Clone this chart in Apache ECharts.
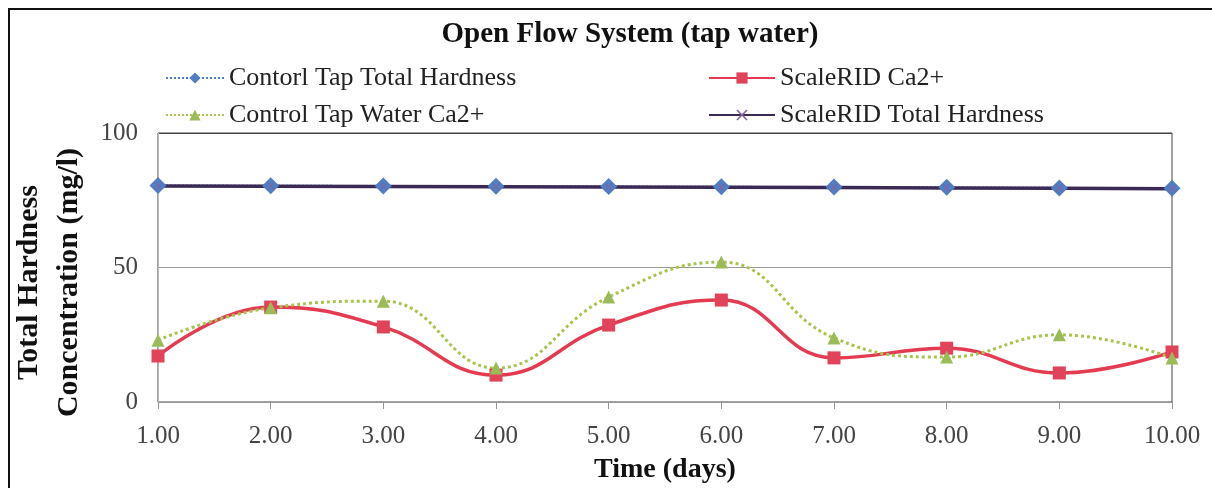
<!DOCTYPE html>
<html><head><meta charset="utf-8">
<script src="https://cdn.jsdelivr.net/npm/echarts@6/dist/echarts.min.js"></script>
<style>html,body{margin:0;padding:0;background:#fff}#c{width:1212px;height:488px}</style>
</head><body><div id="c"></div>
<script>
const days = ['1.00','2.00','3.00','4.00','5.00','6.00','7.00','8.00','9.00','10.00'];
const controlTapTotalHardness = [80.5, 80.4, 80.3, 80.2, 80.1, 80.0, 79.9, 79.8, 79.6, 79.5];
const scaleRidCa = [17.1, 35.3, 27.9, 10.0, 28.6, 37.9, 16.4, 20.0, 10.8, 18.6];
const controlTapWaterCa = [23.0, 35.0, 37.5, 12.6, 39.0, 52.0, 23.8, 16.7, 25.0, 16.4];
const scaleRidTotalHardness = [80.3, 80.2, 80.1, 80.0, 79.9, 79.8, 79.7, 79.6, 79.5, 79.3];
const yTicks = [0, 50, 100];

const serif = '"Liberation Serif", "DejaVu Serif", serif';
const chart = echarts.init(document.getElementById('c'), null, {renderer: 'canvas'});
chart.setOption({
  animation: false,
  backgroundColor: '#fff',
  title: {
    text: 'Open Flow System (tap water)', left: 625, top: 15, textAlign: 'center',
    textStyle: {fontFamily: serif, fontSize: 29, fontWeight: 'bold', color: '#111'}
  },
  legend: [
    {left: 160, top: 60, orient: 'vertical', itemGap: 11, itemWidth: 58, itemHeight: 14,
     data: ['Contorl Tap Total Hardness', 'Control Tap Water Ca2+'],
     textStyle: {fontFamily: serif, fontSize: 26, color: '#222'}},
    {left: 703, top: 60, orient: 'vertical', itemGap: 11, itemWidth: 66, itemHeight: 14,
     data: ['ScaleRID Ca2+', 'ScaleRID Total Hardness'],
     textStyle: {fontFamily: serif, fontSize: 26, color: '#222'}}
  ],
  grid: {left: 158, right: 40, top: 133, bottom: 86, show: true, borderColor: '#444', borderWidth: 1,
         outerBoundsMode: 'none', containLabel: false},
  xAxis: {
    type: 'category', data: days, boundaryGap: false,
    name: 'Time (days)', nameLocation: 'middle', nameGap: 54,
    nameTextStyle: {fontFamily: serif, fontSize: 28, fontWeight: 'bold', color: '#111'},
    axisLine: {lineStyle: {color: '#999', width: 1}},
    axisTick: {show: true, length: 7, lineStyle: {color: '#999'}},
    axisLabel: {fontFamily: serif, fontSize: 25, color: '#444', margin: 22},
    splitLine: {show: false}
  },
  yAxis: {
    type: 'value', min: 0, max: 100, interval: 50,
    name: 'Total Hardness\nConcentration (mg/l)', nameLocation: 'middle', nameGap: 66,
    nameTextStyle: {fontFamily: serif, fontSize: 30, fontWeight: 'bold', color: '#111', lineHeight: 40, padding: [0, 30, 0, 0]},
    axisLine: {show: true, lineStyle: {color: '#bbb'}},
    axisTick: {show: false},
    axisLabel: {fontFamily: serif, fontSize: 25, color: '#444', margin: 20,
      formatter: v => yTicks.includes(v) ? String(v) : ''},
    splitLine: {show: true, lineStyle: {color: ['#ccc', '#999', '#444']}}
  },
  graphic: [{type: 'rect', shape: {x: 9, y: 9, width: 1220, height: 500},
    style: {fill: 'none', stroke: '#111', lineWidth: 2}, silent: true, z: 100}],
  series: [
    {name: 'Contorl Tap Total Hardness', type: 'line', data: controlTapTotalHardness,
     symbol: 'diamond', symbolSize: 17, itemStyle: {color: '#4F7EC2'},
     lineStyle: {color: '#4F7EC2', width: 2, type: 'dotted'}},
    {name: 'ScaleRID Ca2+', type: 'line', data: scaleRidCa, smooth: 0.45,
     symbol: 'rect', symbolSize: 13, itemStyle: {color: '#E0435A'},
     lineStyle: {color: '#E33B52', width: 3.5}},
    {name: 'Control Tap Water Ca2+', type: 'line', data: controlTapWaterCa, smooth: 0.45,
     symbol: 'triangle', symbolSize: 13, itemStyle: {color: '#9BBB59'},
     lineStyle: {color: '#A6C44E', width: 3, type: 'dotted'}},
    {name: 'ScaleRID Total Hardness', type: 'line', data: scaleRidTotalHardness,
     symbol: 'path://M0,1L1,0L5,4L9,0L10,1L6,5L10,9L9,10L5,6L1,10L0,9L4,5Z', symbolSize: 8,
     itemStyle: {color: '#8064A2'},
     lineStyle: {color: '#3A2A55', width: 3.5}}
  ]
});
</script></body></html>
